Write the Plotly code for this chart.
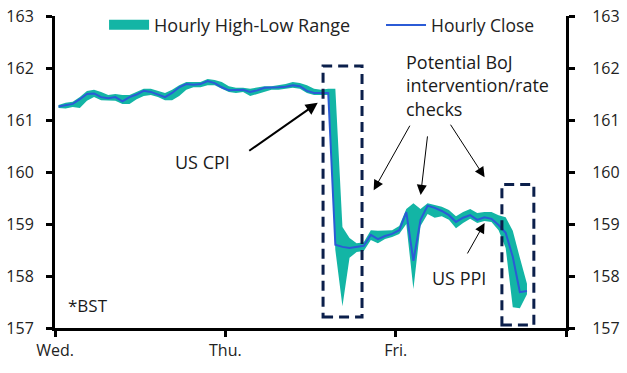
import pandas as pd
import plotly.graph_objects as go
from datetime import datetime, timedelta

# ---- data (USD/JPY hourly, BST) ----
start = datetime(2024, 7, 10, 0, 30)
close = [161.26, 161.29, 161.31, 161.40, 161.50, 161.51, 161.44, 161.42, 161.44, 161.36,
         161.44, 161.49, 161.56, 161.54, 161.49, 161.44, 161.52, 161.63, 161.69, 161.68,
         161.69, 161.75, 161.71, 161.63, 161.57, 161.57, 161.58, 161.54, 161.57, 161.62,
         161.62, 161.63, 161.64, 161.67, 161.65, 161.56, 161.52, 161.52, 161.52, 158.60,
         158.56, 158.54, 158.56, 158.58, 158.79, 158.71, 158.77, 158.81, 158.88, 159.23,
         158.29, 159.08, 159.35, 159.31, 159.25, 159.17, 159.04, 159.12, 159.17, 159.08,
         159.13, 159.10, 158.98, 158.83, 158.37, 157.69, 157.71]
high = [161.29, 161.33, 161.35, 161.44, 161.56, 161.58, 161.54, 161.48, 161.50, 161.48,
        161.48, 161.54, 161.60, 161.60, 161.56, 161.52, 161.58, 161.67, 161.73, 161.73,
        161.73, 161.79, 161.77, 161.73, 161.65, 161.62, 161.62, 161.60, 161.62, 161.65,
        161.65, 161.67, 161.69, 161.73, 161.71, 161.67, 161.60, 161.58, 161.60, 161.60,
        158.94, 158.73, 158.63, 158.65, 158.88, 158.87, 158.87, 158.88, 158.96, 159.29,
        159.40, 159.29, 159.40, 159.37, 159.33, 159.27, 159.15, 159.23, 159.29, 159.21,
        159.23, 159.23, 159.17, 159.13, 158.87, 158.35, 157.85]
low = [161.23, 161.22, 161.25, 161.23, 161.37, 161.44, 161.38, 161.37, 161.37, 161.31,
       161.31, 161.40, 161.46, 161.48, 161.44, 161.38, 161.38, 161.46, 161.58, 161.63,
       161.63, 161.67, 161.67, 161.60, 161.54, 161.52, 161.54, 161.46, 161.50, 161.54,
       161.58, 161.58, 161.60, 161.62, 161.60, 161.52, 161.48, 161.48, 161.48, 158.50,
       157.42, 158.35, 158.46, 158.48, 158.69, 158.63, 158.71, 158.75, 158.81, 159.00,
       157.75, 158.96, 159.19, 159.12, 159.15, 159.08, 158.92, 159.02, 159.10, 159.02,
       159.06, 159.04, 158.88, 158.54, 157.40, 157.38, 157.65]
times = pd.date_range(start, periods=len(close), freq="h")

day_ticks = ["2024-07-10", "2024-07-11", "2024-07-12", "2024-07-13"]
day_labels = ["Wed.", "Thu.", "Fri.", ""]
y_ticks = [157, 158, 159, 160, 161, 162, 163]

TEAL = "#13B5A5"
BLUE = "#2B5BD6"
NAVY = "#0B1F4B"
FONT = "Open Sans"
TXT = "#1a1a1a"


def t(h):
    return datetime(2024, 7, 10) + timedelta(hours=h)


fig = go.Figure()
fig.add_trace(go.Scatter(x=times, y=high, mode="lines", line=dict(width=0, color=TEAL),
                         showlegend=False, hoverinfo="skip"))
fig.add_trace(go.Scatter(x=times, y=low, mode="lines", line=dict(width=0, color=TEAL),
                         fill="tonexty", fillcolor=TEAL, showlegend=False, hoverinfo="skip"))
# legend entries
fig.add_trace(go.Scatter(x=[None], y=[None], mode="lines", line=dict(width=10, color=TEAL),
                         name="Hourly High-Low Range", legend="legend"))
fig.add_trace(go.Scatter(x=times, y=close, mode="lines", line=dict(width=2, color=BLUE),
                         name="Hourly Close", legend="legend2"))
# invisible trace for right axis
fig.add_trace(go.Scatter(x=[times[0]], y=[close[0]], yaxis="y2", mode="markers",
                         marker=dict(opacity=0), showlegend=False, hoverinfo="skip"))

# dashed boxes
for (x0, x1, y0, y1) in [(37.77, 43.26, 157.21, 162.04), (62.97, 67.47, 157.06, 159.76)]:
    fig.add_shape(type="rect", x0=t(x0), x1=t(x1), y0=y0, y1=y1, xref="x", yref="y",
                  line=dict(color=NAVY, width=3, dash="10px,6px"))

ann_font = dict(family=FONT, size=18, color=TXT)
# text annotations
fig.add_annotation(x=t(20.76), y=160.20, text="US CPI", showarrow=False, font=ann_font)
fig.add_annotation(x=t(49.2), y=161.67, text="Potential BoJ<br>intervention/rate<br>checks",
                   showarrow=False, font=ann_font, xanchor="left", align="left")
fig.add_annotation(x=t(56.9), y=157.96, text="US PPI", showarrow=False, font=ann_font)
fig.add_annotation(x=t(1.6), y=157.44, text="*BST", showarrow=False,
                   font=dict(family=FONT, size=17, color=TXT), xanchor="left")
# arrows
fig.add_annotation(x=t(37.02), y=161.33, ax=-70, ay=49, text="", showarrow=True,
                   arrowhead=2, arrowsize=1.2, arrowwidth=2, arrowcolor="black")
for (hx, vy, ax, ay) in [(44.9, 159.65, 37, -66), (51.52, 159.56, 7, -60), (60.53, 159.90, -35, -54),
                         (60.53, 159.02, -18, 32)]:
    fig.add_annotation(x=t(hx), y=vy, ax=ax, ay=ay, text="", showarrow=True,
                       arrowhead=2, arrowsize=2, arrowwidth=1, arrowcolor="black")

axis_common = dict(showgrid=False, zeroline=False, showline=True, linecolor="black", linewidth=3,
                   ticks="outside", tickcolor="black", tickwidth=3, ticklen=6,
                   ticklabeloverflow="allow",
                   tickfont=dict(family=FONT, size=16, color="#222"))

fig.update_layout(
    width=627, height=373,
    margin=dict(l=55, r=61, t=16, b=45, autoexpand=False),
    plot_bgcolor="white", paper_bgcolor="white",
    xaxis=dict(range=[day_ticks[0], day_ticks[-1]], tickvals=day_ticks, ticktext=day_labels,
               **axis_common),
    yaxis=dict(range=[157, 163], tickvals=y_ticks, ticklabelstandoff=9, **axis_common),
    yaxis2=dict(range=[157, 163], tickvals=y_ticks, overlaying="y", side="right",
                ticklabelstandoff=14, **axis_common),
    legend=dict(orientation="h", x=0.096, y=0.971, xanchor="left", yanchor="middle", itemwidth=40,
                font=dict(family=FONT, size=18, color="#222"), bgcolor="rgba(0,0,0,0)"),
    legend2=dict(orientation="h", x=0.638, y=0.971, xanchor="left", yanchor="middle", itemwidth=40,
                 font=dict(family=FONT, size=17.5, color="#222"), bgcolor="rgba(0,0,0,0)"),
    showlegend=True,
)

# remove the default page margin so the figure sits at the window's top-left corner
fig.write_html("out.html", config={"displayModeBar": False},
               post_script="document.body.style.margin='0';")
